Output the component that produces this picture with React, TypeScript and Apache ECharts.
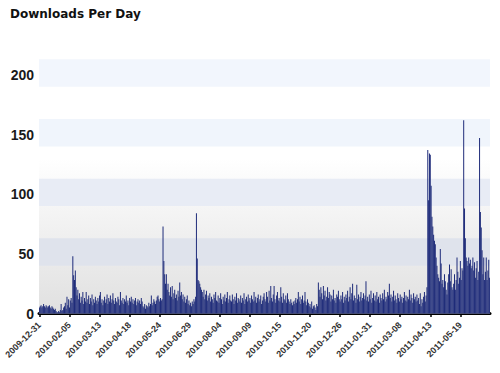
import React, { useEffect, useRef } from "react";
import * as echarts from "echarts";

const TITLE = "Downloads Per Day";
const START_DATE = "2009-12-31";
const Y_TICKS = [0, 50, 100, 150, 200];

const downloads: number[] = [
  5, 6, 7, 5, 6, 8, 6, 5, 7, 6, 5, 6, 7, 5, 4, 6, 5, 4, 3, 4, 2, 1, 1, 2, 1, 3, 8, 2, 3, 5,
  6, 9, 4, 14, 7, 12, 5, 11, 13, 9, 48, 32, 28, 36, 22, 15, 20, 12, 17, 9, 14, 11, 18, 8, 13, 10, 18, 9, 12, 15,
  8, 13, 10, 16, 7, 12, 9, 14, 11, 8, 13, 10, 15, 18, 9, 12, 7, 11, 14, 9, 12, 16, 8, 13, 10, 15, 9, 12, 17, 11,
  8, 13, 10, 9, 14, 12, 7, 18, 11, 9, 13, 8, 12, 10, 15, 9, 11, 7, 13, 10, 14, 9, 12, 8, 11, 13, 7, 10, 12, 9,
  11, 8, 13, 10, 6, 5, 8, 4, 7, 6, 5, 9, 6, 8, 15, 7, 9, 12, 10, 8, 11, 14, 15, 12, 10, 13, 11, 12, 73, 44,
  33, 25, 33, 20, 25, 18, 15, 22, 14, 23, 12, 17, 20, 13, 16, 11, 19, 14, 26, 15, 18, 12, 16, 10, 14, 9, 12, 15, 8, 11,
  7, 9, 6, 10, 8, 12, 10, 14, 84, 46, 28, 27, 25, 22, 20, 18, 14, 20, 12, 16, 19, 11, 15, 13, 17, 10, 14, 12, 9, 16,
  13, 18, 11, 10, 15, 9, 13, 17, 12, 8, 14, 11, 16, 10, 13, 18, 9, 12, 15, 11, 10, 16, 12, 8, 14, 11, 17, 9, 13, 12,
  10, 15, 9, 13, 11, 17, 8, 12, 14, 10, 16, 11, 13, 9, 15, 12, 10, 18, 11, 14, 9, 13, 16, 10, 12, 15, 8, 11, 14, 17,
  12, 10, 18, 14, 9, 19, 11, 23, 13, 10, 16, 23, 12, 9, 15, 18, 11, 13, 10, 22, 14, 9, 17, 12, 11, 15, 9, 17, 12, 10,
  8, 12, 9, 7, 10, 8, 11, 13, 9, 12, 18, 10, 14, 8, 12, 15, 9, 11, 18, 10, 7, 12, 9, 6, 8, 5, 10, 4, 6, 7,
  5, 3, 8, 6, 26, 20, 14, 22, 17, 12, 23, 15, 19, 11, 14, 22, 13, 18, 16, 10, 15, 12, 20, 11, 13, 9, 16, 14, 19, 12,
  10, 15, 12, 18, 9, 14, 11, 16, 13, 19, 10, 14, 22, 12, 17, 25, 11, 15, 13, 9, 24, 12, 16, 10, 14, 18, 11, 13, 17, 12,
  15, 27, 11, 14, 10, 16, 12, 19, 9, 13, 17, 11, 15, 10, 18, 12, 14, 9, 16, 13, 11, 17, 12, 20, 10, 14, 12, 18, 15, 25,
  13, 16, 10, 14, 19, 11, 15, 12, 9, 17, 13, 10, 16, 12, 14, 9, 13, 18, 11, 15, 10, 14, 12, 20, 11, 16, 13, 9, 17, 12,
  14, 10, 16, 11, 13, 8, 17, 6, 12, 9, 14, 18, 10, 15, 22, 137, 95, 134, 133, 107, 81, 73, 66, 61, 58, 47, 40, 33, 30, 27,
  54, 42, 25, 28, 22, 33, 27, 20, 16, 26, 33, 41, 27, 37, 22, 20, 25, 33, 20, 28, 47, 35, 25, 30, 44, 28, 38, 36, 162, 88,
  63, 47, 44, 40, 47, 42, 45, 38, 40, 47, 36, 43, 30, 38, 44, 28, 35, 147, 85, 72, 53, 33, 47, 28, 35, 47, 28, 36, 45, 30,
];

function buildDates(start: string, count: number): string[] {
  const out: string[] = [];
  const base = new Date(start + "T00:00:00Z").getTime();
  for (let i = 0; i < count; i++) {
    out.push(new Date(base + i * 86400000).toISOString().slice(0, 10));
  }
  return out;
}

const dates = buildDates(START_DATE, downloads.length);

export default function App() {
  const ref = useRef<HTMLDivElement>(null);
  useEffect(() => {
    if (!ref.current) return;
    const chart = echarts.init(ref.current, null, { renderer: "svg" });
    const band = (lo: number, hi: number, color: string) => [
      { yAxis: lo, itemStyle: { color } },
      { yAxis: hi },
    ];
    chart.setOption({
      animation: false,
      backgroundColor: "#ffffff",
      title: {
        text: TITLE,
        left: 5,
        top: 3,
        textStyle: {
          fontFamily: "DejaVu Sans",
          fontWeight: "bold",
          fontSize: 12,
          color: "#111",
        },
      },
      grid: { left: 39, right: 10, top: 51, bottom: 59.5 },
      xAxis: {
        type: "category",
        data: dates,
        boundaryGap: true,
        axisLine: { show: true, lineStyle: { color: "#000", width: 3 } },
        axisTick: {
          show: true,
          interval: 35,
          alignWithLabel: true,
          length: 3.5,
          lineStyle: { color: "#000", width: 1.5 },
        },
        axisLabel: {
          interval: 35,
          rotate: 45,
          margin: 10,
          fontSize: 9,
          fontWeight: "bold",
          fontFamily: "Liberation Sans",
          color: "#333",
        },
        splitLine: { show: false },
      },
      yAxis: {
        type: "value",
        min: Y_TICKS[0],
        max: 220,
        interval: 50,
        axisLine: { show: false },
        axisTick: { show: false },
        splitLine: { show: false },
        axisLabel: {
          showMaxLabel: false,
          margin: 5,
          fontSize: 14,
          fontWeight: "bold",
          fontFamily: "Liberation Sans",
          color: "#1a1a1a",
        },
      },
      series: [
        {
          type: "bar",
          data: downloads,
          barCategoryGap: "8%",
          itemStyle: { color: "#1f2c7a" },
          markArea: {
            silent: true,
            data: [
              [
                {
                  yAxis: 0,
                  itemStyle: {
                    color: {
                      type: "linear",
                      x: 0,
                      y: 0,
                      x2: 0,
                      y2: 1,
                      colorStops: [
                        { offset: 0, color: "#ffffff" },
                        { offset: 0.35, color: "#f4f4f4" },
                        { offset: 1, color: "#e0e0e0" },
                      ],
                    },
                  },
                },
                { yAxis: 130 },
              ],
              band(40, 63, "#dfe3ec"),
              band(90, 113, "#e8ecf5"),
              band(140, 163, "#f0f5fc"),
              band(190, 213, "#f2f6fd"),
            ],
          },
        },
      ],
    });
    return () => chart.dispose();
  }, []);
  return (
    <div
      ref={ref}
      style={{ position: "fixed", left: 0, top: 0, width: 500, height: 373 }}
    />
  );
}
